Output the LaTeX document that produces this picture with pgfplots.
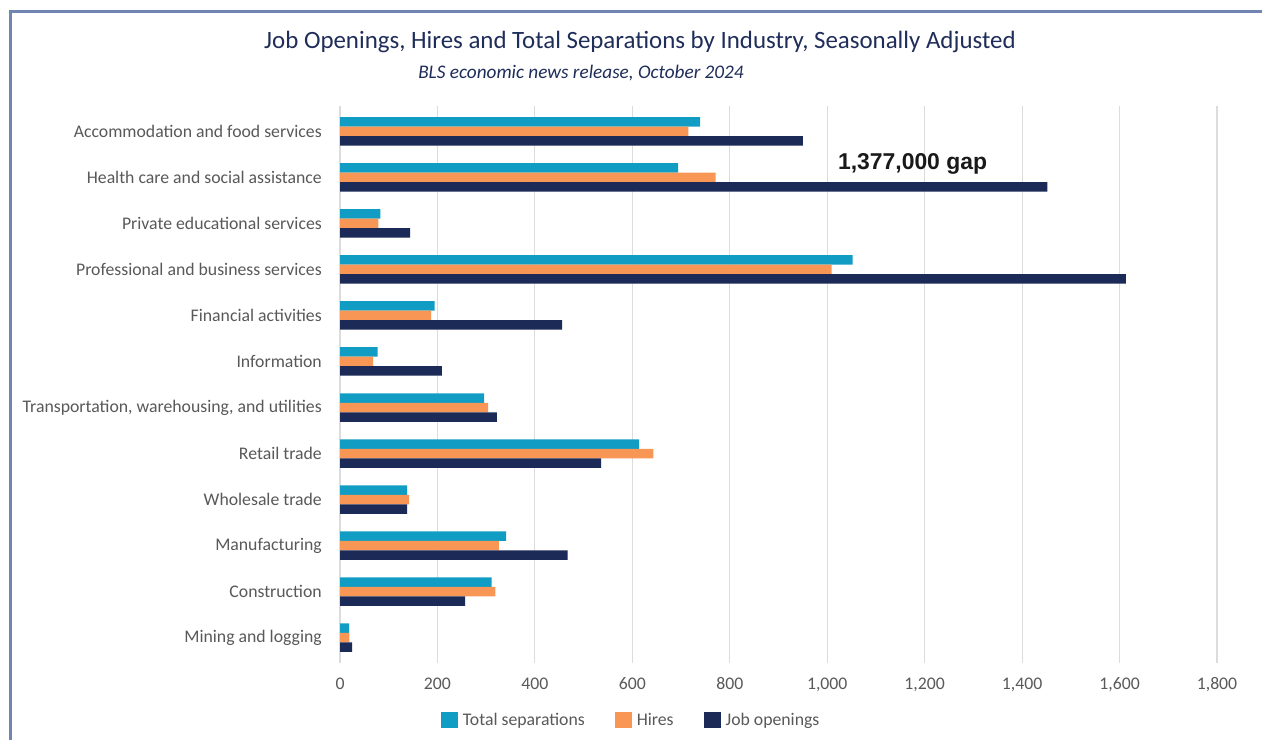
\documentclass[border=0pt]{standalone}
\usepackage{pgfplots}
\pgfplotsset{compat=1.18}
\usepackage{fontspec}
\setmainfont{Carlito}
\newfontfamily\arialfont{Liberation Sans}
\definecolor{cTeal}{RGB}{17,157,195}
\definecolor{cOrange}{RGB}{247,150,85}
\definecolor{cNavy}{RGB}{27,42,86}
\definecolor{cFrame}{RGB}{112,133,176}
\definecolor{cText}{RGB}{89,89,89}
\definecolor{cTitle}{RGB}{31,45,90}
\definecolor{cGrid}{RGB}{220,220,220}
\begin{document}
\begin{tikzpicture}[x=1bp,y=1bp]
\useasboundingbox (0,0) rectangle (1262,740);
\fill[white] (0,0) rectangle (1262,740);
\draw[cFrame, line width=3bp] (10,0) -- (10,728.5) -- (1262,728.5);
\node[text=cTitle, font=\fontsize{25}{29}\selectfont] at (640,698) {Job Openings, Hires and Total Separations by Industry, Seasonally Adjusted};
\node[text=cTitle, font=\fontsize{19.3}{23}\selectfont\itshape] at (581,667) {BLS economic news release, October 2024};
\begin{axis}[
  at={(340bp,77bp)}, anchor=south west,
  scale only axis, width=877bp, height=557bp,
  xbar, bar width=9.5bp,
  xmin=0, xmax=1800, ymin=-0.55, ymax=11.55,
  xtick={0,200,...,1800},
  ytick={0,...,11},
  yticklabels={Mining and logging, Construction, Manufacturing, Wholesale trade, Retail trade, {Transportation, warehousing, and utilities}, Information, Financial activities, Professional and business services, Private educational services, Health care and social assistance, Accommodation and food services},
  xmajorgrids, ymajorgrids=false,
  major grid style={cGrid, line width=1.2bp},
  axis line style={draw=none}, major tick length=0pt,
  /pgf/number format/assume math mode=true,
  /pgf/number format/1000 sep={,},
  ticklabel style={font=\fontsize{17.8}{21}\selectfont, text=cText},
  yticklabel style={anchor=east, inner sep=0pt, xshift=-18bp},
  xticklabel style={anchor=north, inner sep=0pt, yshift=-14.5bp},
  legend style={at={(0.332,-0.102)}, anchor=center, draw=none, fill=none,
    font=\fontsize{17.8}{21}\selectfont, text=cText,
    /tikz/every odd column/.append style={column sep=3bp},
    /tikz/every even column/.append style={column sep=28bp}},
  legend columns=3,
  legend image code/.code={\fill[#1] (0bp,-8bp) rectangle (17bp,8bp);},
]
\addplot[fill=cTeal, draw=none, bar shift=9.5bp] coordinates {(18.5,0) (311,1) (341,2) (138,3) (614,4) (296,5) (77,6) (194,7) (1052,8) (83,9) (694,10) (739,11)};
\addplot[fill=cOrange, draw=none, bar shift=0bp] coordinates {(19,0) (319,1) (326,2) (142,3) (643,4) (304,5) (68,6) (187,7) (1009,8) (79,9) (771,10) (715,11)};
\addplot[fill=cNavy, draw=none, bar shift=-9.5bp] coordinates {(25,0) (257,1) (467,2) (138,3) (536,4) (322,5) (209,6) (456,7) (1613,8) (144,9) (1452,10) (950,11)};
\legend{Total separations, Hires, Job openings}
\node[anchor=base west, text=black!90, font=\arialfont\bfseries\fontsize{23}{27}\selectfont] at (axis cs:1015,10.16) {1,377,000 gap};
\end{axis}
\end{tikzpicture}
\end{document}
